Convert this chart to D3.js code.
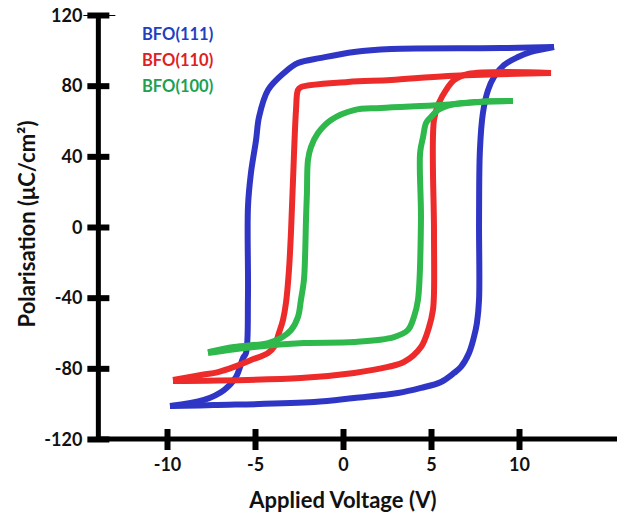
<!DOCTYPE html>
<html><head><meta charset="utf-8">
<script src="https://cdn.jsdelivr.net/npm/d3@7/dist/d3.min.js"></script>
<style>
body{margin:0;background:#fff}
svg{display:block}
text{font-family:Lato,"Open Sans",sans-serif;font-weight:700;fill:#111}
</style>
</head><body>
<svg id="chart" width="617" height="515"></svg>
<script>
// ---- data ----
const xTicks = [-10, -5, 0, 5, 10];
const yTicks = [-120, -80, -40, 0, 40, 80, 120];
const seriesNames = ["BFO(111)", "BFO(110)", "BFO(100)"];
const xTitle = "Applied Voltage (V)";
const yTitle = "Polarisation (μC/cm²)";

// [voltage V, polarisation µC/cm²] – descending branch then ascending branch
const bfo111Down = [[11.99,101.9],[8.98,101.3],[2.73,100.8],[0.63,99.1],[-1.25,95.7],[-2.56,92.8],[-3.35,87.2],[-4.26,77.5],[-4.77,62.3],[-4.94,49.2],[-5.23,30.6],[-5.40,11.3],[-5.40,-39.6],[-5.51,-71.3],[-5.68,-74.2],[-6.08,-84.9],[-6.76,-92.3],[-7.90,-97.9],[-9.83,-101.3]];
const bfo111Up = [[-9.83,-101.3],[-7.33,-100.8],[-1.65,-99.1],[0.63,-96.8],[3.13,-94.0],[4.43,-91.1],[5.57,-87.7],[6.31,-82.6],[6.70,-79.2],[7.16,-71.3],[7.44,-62.3],[7.61,-54.3],[7.73,-41.3],[7.73,4.0],[7.78,43.6],[7.95,64.5],[8.24,77.5],[8.58,84.9],[9.15,91.7],[9.94,96.2],[10.68,99.1],[11.99,101.9]];
const bfo110Down = [[11.82,87.2],[5.97,85.5],[2.73,83.2],[0.28,82.1],[-2.39,79.2],[-2.56,77.5],[-2.67,66.2],[-2.84,26.6],[-2.95,-1.7],[-3.07,-24.3],[-3.24,-43.0],[-3.41,-52.6],[-3.64,-60.0],[-3.92,-67.9],[-4.26,-71.3],[-5.23,-75.3],[-6.19,-79.2],[-7.10,-82.1],[-8.07,-83.8],[-9.66,-86.6]];
const bfo110Up = [[-9.66,-87.2],[-2.39,-85.5],[0.63,-82.6],[2.56,-79.2],[3.47,-76.4],[4.43,-67.9],[4.89,-56.6],[5.11,-47.0],[5.17,-37.4],[5.17,-1.7],[5.17,60.6],[5.45,70.2],[5.85,77.5],[6.31,83.2],[7.10,86.6],[11.82,87.2]];
const bfo100Down = [[9.66,71.3],[7.84,70.8],[5.57,69.1],[2.16,67.4],[0.63,66.2],[-0.68,60.6],[-1.42,53.2],[-1.82,45.3],[-1.99,37.9],[-2.05,19.2],[-2.10,5.0],[-2.15,-15.0],[-2.22,-30.0],[-2.39,-41.3],[-2.56,-50.9],[-2.95,-58.3],[-3.52,-62.8],[-4.26,-65.7],[-6.19,-67.9],[-7.67,-70.8]];
const bfo100Up = [[-7.67,-71.3],[-5.06,-67.9],[-2.22,-65.7],[0.63,-65.1],[2.90,-62.3],[3.69,-58.3],[4.03,-50.9],[4.26,-41.3],[4.43,4.0],[4.38,41.9],[4.55,51.0],[4.72,58.9],[5.00,62.3],[5.40,66.2],[6.14,69.1],[7.67,70.8],[9.55,71.3]];

const lineColors = ["#2f36c6", "#ee2b2b", "#2fb84c"];
const labelColors = ["#2040c0", "#e0201f", "#20a050"];

// ---- layout ----
const svg = d3.select("#chart");
const x = d3.scaleLinear().domain([-10, 10]).range([167, 519]);
const y = d3.scaleLinear().domain([-120, 120]).range([439, 15]);
const xAxisExtent = [-13.9, 15.7];
const FONT = "Lato, 'Open Sans', sans-serif";

const loops = [
  [bfo111Down, bfo111Up],
  [bfo110Down, bfo110Up],
  [bfo100Down, bfo100Up]
];

const line = d3.line().x(d => x(d[0])).y(d => y(d[1])).curve(d3.curveCatmullRom.alpha(0.5));

loops.forEach((branches, i) => {
  branches.forEach(b => {
    svg.append("path").attr("d", line(b))
      .attr("fill", "none").attr("stroke", lineColors[i])
      .attr("stroke-width", 6).attr("stroke-linejoin", "round").attr("stroke-linecap", "butt");
  });
});

// axes
const x0 = x(xAxisExtent[0]);
svg.append("line").attr("x1", x0).attr("x2", x0).attr("y1", y(120)).attr("y2", y(-120) + 2.5)
  .attr("stroke", "#000").attr("stroke-width", 5);
svg.append("line").attr("x1", x0 - 2.5).attr("x2", x(xAxisExtent[1])).attr("y1", y(-120)).attr("y2", y(-120))
  .attr("stroke", "#000").attr("stroke-width", 5);

const fmt = d => String(d);
const yAxis = d3.axisLeft(y).tickValues(yTicks).tickSize(0).tickPadding(0).tickFormat(fmt);
const gy = svg.append("g").attr("transform", `translate(${x0},0)`).call(yAxis);
gy.select(".domain").remove();
gy.selectAll(".tick text").attr("x", -16).attr("dy", "0.35em").attr("font-size", 18).attr("fill", "#111")
  .style("font-family", FONT).style("font-weight", 700);
gy.selectAll(".tick").append("line").attr("x1", -11).attr("x2", 11).attr("stroke", "#000").attr("stroke-width", 6);
gy.selectAll(".tick").filter(d => d === 120).select("line").attr("x1", -15).attr("x2", 17);

const xAxis = d3.axisBottom(x).tickValues(xTicks).tickSize(0).tickPadding(0).tickFormat(fmt);
const gx = svg.append("g").attr("transform", `translate(0,${y(-120)})`).call(xAxis);
gx.select(".domain").remove();
gx.selectAll(".tick text").attr("y", 26).attr("dy", "0.35em").attr("font-size", 18).attr("fill", "#111")
  .style("font-family", FONT).style("font-weight", 700);
gx.selectAll(".tick").append("line").attr("y1", -10).attr("y2", 11).attr("stroke", "#000").attr("stroke-width", 6);

// titles
svg.append("text").attr("x", x(0)).attr("y", 508).attr("text-anchor", "middle")
  .attr("font-size", 22).text(xTitle);
svg.append("text").attr("transform", `translate(35,${y(0) - 3}) rotate(-90)`).attr("text-anchor", "middle")
  .attr("font-size", 22).text(yTitle);

// legend
seriesNames.forEach((n, i) => {
  svg.append("text").attr("x", 142).attr("y", 34 + i * 26).attr("dy", "0.35em")
    .attr("font-size", 16.5).style("fill", labelColors[i]).text(n);
});
</script>
</body></html>
